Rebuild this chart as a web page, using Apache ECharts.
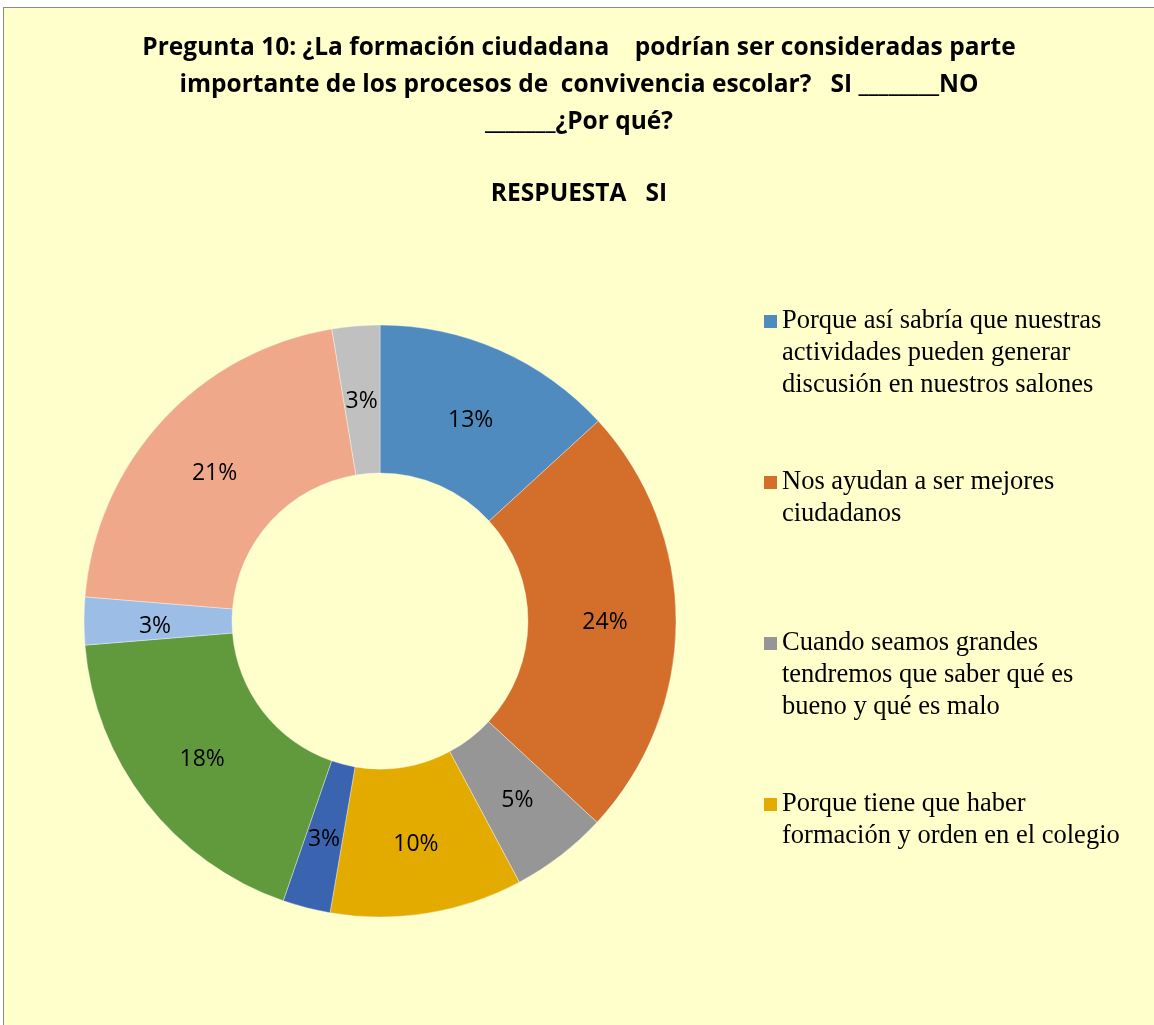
<!DOCTYPE html>
<html>
<head>
<meta charset="utf-8">
<script src="https://cdn.jsdelivr.net/npm/echarts@6/dist/echarts.min.js"></script>
<style>
  html, body { margin: 0; padding: 0; background: #ffffff; }
  #main {
    position: absolute;
    left: 3px;
    top: 7px;
    width: 1151px;
    height: 1018px;
    border-left: 1px solid #8c8c8c;
    border-top: 1px solid #8c8c8c;
    box-sizing: border-box;
  }
</style>
</head>
<body>
<div id="main"></div>
<script>
// categorias (solo las cuatro primeras aparecen en la leyenda del original)
const categories = [
  "Porque así sabría que nuestras\nactividades pueden generar\ndiscusión en nuestros salones",
  "Nos ayudan a ser mejores\nciudadanos",
  "Cuando seamos grandes\ntendremos que saber qué es\nbueno y qué es malo",
  "Porque tiene que haber\nformación y orden en el colegio",
  "Respuesta 5",
  "Respuesta 6",
  "Respuesta 7",
  "Respuesta 8",
  "Respuesta 9"
];
const values = [13.2, 23.7, 5.3, 10.5, 2.6, 18.4, 2.6, 21.1, 2.6];
// etiquetas que muestra el grafico
const pctLabels = ["13%", "24%", "5%", "10%", "3%", "18%", "3%", "21%", "3%"];
const colors = ["#4f8bbe", "#d36e2b", "#969696", "#e3aa00", "#3a63b0",
                "#619a3c", "#9cbee6", "#f0a88a", "#c0c0c0"];
const legendNames = categories.slice(0, 4);

const chart = echarts.init(document.getElementById("main"));

const option = {
  backgroundColor: "#ffffcc",
  color: colors,
  animation: false,
  title: {
    left: "center",
    top: 22,
    padding: [0, 0, 0, 20],
    itemGap: 38,
    text: "Pregunta 10: ¿La formación ciudadana    podrían ser consideradas parte\n" +
          "importante de los procesos de  convivencia escolar?   SI ________NO\n" +
          "_______¿Por qué?",
    subtext: "RESPUESTA   SI",
    textStyle: {
      fontFamily: "'Open Sans', sans-serif",
      fontWeight: "bold",
      fontSize: 24.5,
      lineHeight: 37,
      color: "#000"
    },
    subtextStyle: {
      fontFamily: "'Open Sans', sans-serif",
      fontWeight: "bold",
      fontSize: 24.5,
      lineHeight: 30,
      color: "#000"
    }
  },
  legend: {
    orient: "vertical",
    left: 760,
    top: 297,
    padding: 0,
    itemGap: 1,
    itemWidth: 13,
    itemHeight: 160,
    // cuadrado arriba, puntos invisibles para fijar la caja del icono
    icon: "path://M0,10L13,10L13,23L0,23Z M0,0L0.01,0 M0,160L0.01,160",
    itemStyle: { borderWidth: 0 },
    selectedMode: false,
    data: legendNames,
    formatter: function (name) {
      let lines = name.split("\n");
      while (lines.length < 5) lines.push(" ");
      return lines.join("\n");
    },
    textStyle: {
      fontFamily: "'Liberation Serif', 'DejaVu Serif', serif",
      fontSize: 26.5,
      lineHeight: 32,
      color: "#000"
    }
  },
  series: [
    {
      type: "pie",
      center: [376, 613],
      radius: [148, 296],
      startAngle: 90,
      clockwise: true,
      avoidLabelOverlap: false,
      itemStyle: { borderWidth: 0.6, borderColor: "rgba(255,255,255,0.6)" },
      label: {
        show: true,
        position: "inside",
        fontFamily: "'Open Sans', sans-serif",
        fontSize: 23,
        color: "#000",
        formatter: function (p) { return pctLabels[p.dataIndex]; }
      },
      labelLayout: function (p) {
        // el original baja un poco las etiquetas de la mitad superior
        var cy = 613;
        var ly = p.labelRect.y + p.labelRect.height / 2;
        return { dy: ly < cy ? 5 : 1 };
      },
      labelLine: { show: false },
      emphasis: { disabled: true },
      data: categories.map(function (c, i) {
        return { name: c, value: values[i] };
      })
    }
  ]
};

chart.setOption(option);
</script>
</body>
</html>
